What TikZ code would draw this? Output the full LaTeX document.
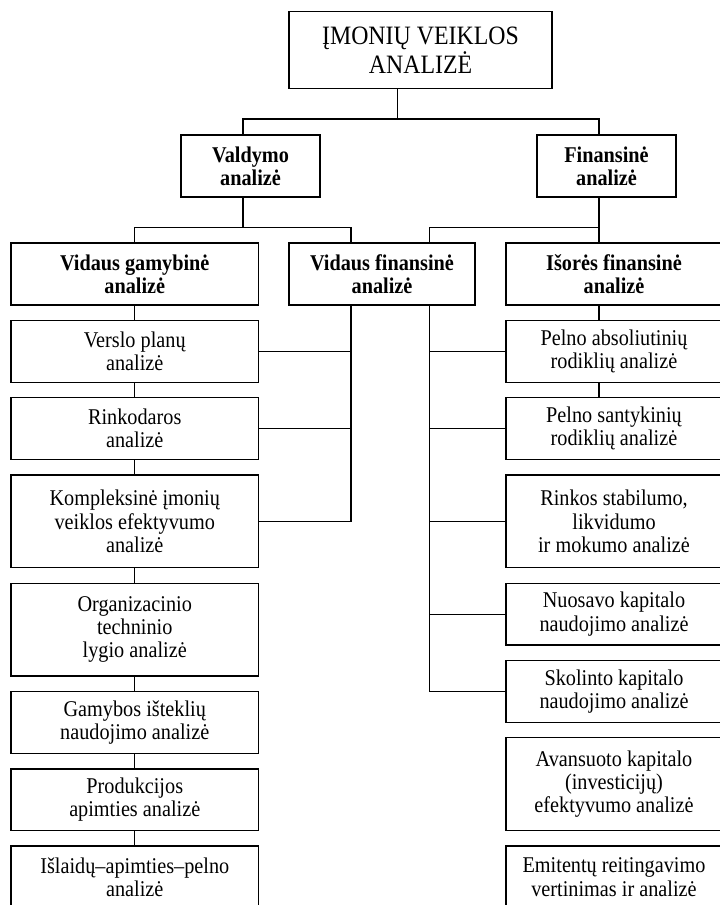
\documentclass[tikz,border=0pt]{standalone}
\usepackage{fontspec}
\setmainfont{Liberation Serif}[FakeStretch=0.9]
\newcommand{\bodyfnt}{\fontsize{22.5}{23.3}\selectfont}
\newcommand{\topfnt}{\fontsize{26.5}{28.4}\selectfont}
\begin{document}
\lineskiplimit=-20pt
\begin{tikzpicture}[x=1pt,y=-1pt,
  box/.style={draw, line width=1.2pt, rectangle, inner sep=0pt, align=center,
    font=\bodyfnt},
  bbox/.style={box, font=\bodyfnt\bfseries},
  lcol/.style={box, minimum width=247.5pt},
  rcol/.style={box, minimum width=216pt},
  conn/.style={line width=1.2pt}]
\clip (0,0) rectangle (720,905);
\fill[white] (0,0) rectangle (720,905);

% x positions of connector lines, bus levels
\coordinate (xT) at (397.6,0);
\coordinate (xV) at (243,0);
\coordinate (xF) at (599,0);
\coordinate (xL) at (351,0);
\coordinate (xR) at (429.3,0);
\coordinate (bus1) at (0,119);
\coordinate (bus2) at (0,227.7);

% level 1
\node[box, minimum width=263pt, minimum height=77pt, font=\topfnt] (top) at (420.5,50.2) {ĮMONIŲ VEIKLOS\\ANALIZĖ};

% level 2
\node[bbox, minimum width=139pt, minimum height=62pt] (valdymo) at (250.5,166) {Valdymo\\analizė};
\node[bbox, minimum width=139pt, minimum height=62pt] (finans) at (606.5,166) {Finansinė\\analizė};

% level 3
\node[bbox, minimum width=247.5pt, minimum height=62pt] (vgam) at (134.75,274) {Vidaus gamybinė\\analizė};
\node[bbox, minimum width=186pt, minimum height=62pt] (vfin) at (382,274) {Vidaus finansinė\\analizė};
\node[bbox, minimum width=216pt, minimum height=62pt] (isor) at (614,274) {Išorės finansinė\\analizė};

% left column
\node[lcol, minimum height=61.6pt] (verslo) at (134.75,351.5) {Verslo planų\\analizė};
\node[lcol, minimum height=61.6pt] (rinko) at (134.75,428.5) {Rinkodaros\\analizė};
\node[lcol, minimum height=92.7pt] (kompl) at (134.75,521.35) {Kompleksinė įmonių\\veiklos efektyvumo\\analizė};
\node[lcol, minimum height=92.7pt] (organ) at (134.75,629.65) {Organizacinio\\techninio\\lygio analizė};
\node[lcol, minimum height=61.6pt] (gamyb) at (134.75,722.5) {Gamybos išteklių\\naudojimo analizė};
\node[lcol, minimum height=61.7pt] (produk) at (134.75,799.85) {Produkcijos\\apimties analizė};
\node[lcol, minimum height=62pt] (islaid) at (134.75,877) {Išlaidų–apimties–pelno\\analizė};

% right column
\node[rcol, minimum height=61.6pt] (pabs) at (614,351.5) {Pelno absoliutinių\\rodiklių analizė};
\node[rcol, minimum height=61.6pt] (psant) at (614,428.5) {Pelno santykinių\\rodiklių analizė};
\node[rcol, minimum height=92.7pt] (rinkos) at (614,521.35) {Rinkos stabilumo,\\likvidumo\\ir mokumo analizė};
\node[rcol, minimum height=61.7pt] (nuosav) at (614,614.15) {Nuosavo kapitalo\\naudojimo analizė};
\node[rcol, minimum height=62pt] (skol) at (614,691.7) {Skolinto kapitalo\\naudojimo analizė};
\node[rcol, minimum height=93pt] (avans) at (614,784.2) {Avansuoto kapitalo\\(investicijų)\\efektyvumo analizė};
\node[rcol, minimum height=62pt] (emit) at (614,877) {Emitentų reitingavimo\\vertinimas ir analizė};

% connectors level 1 -> 2
\draw[conn] (top.south -| xT) -- (xT |- bus1);
\draw[conn] (valdymo.north -| xV) -- (xV |- bus1) -- (xF |- bus1) -- (finans.north -| xF);

% level 2 -> 3
\draw[conn] (valdymo.south -| xV) -- (xV |- bus2);
\draw[conn] (vgam.north) -- (vgam.north |- bus2) -- (xL |- bus2) -- (vfin.north -| xL);
\draw[conn] (finans.south -| xF) -- (isor.north -| xF);
\draw[conn] (vfin.north -| xR) -- (xR |- bus2) -- (xF |- bus2);

% left chain
\draw[conn] (vgam.south) -- (verslo.north);
\draw[conn] (verslo.south) -- (rinko.north);
\draw[conn] (rinko.south) -- (kompl.north);
\draw[conn] (kompl.south) -- (organ.north);
\draw[conn] (organ.south) -- (gamyb.north);
\draw[conn] (gamyb.south) -- (produk.north);
\draw[conn] (produk.south) -- (islaid.north);

% internal financial -> left column
\draw[conn] (vfin.south -| xL) -- (kompl.east -| xL) -- (kompl.east);
\draw[conn] (verslo.east) -- (verslo.east -| xL);
\draw[conn] (rinko.east) -- (rinko.east -| xL);

% internal financial -> right column
\draw[conn] (vfin.south -| xR) -- (skol.west -| xR) -- (skol.west);
\draw[conn] (pabs.west) -- (pabs.west -| xR);
\draw[conn] (psant.west) -- (psant.west -| xR);
\draw[conn] (rinkos.west) -- (rinkos.west -| xR);
\draw[conn] (nuosav.west) -- (nuosav.west -| xR);

% external chain
\draw[conn] (isor.south -| xF) -- (pabs.north -| xF);
\draw[conn] (pabs.south -| xF) -- (psant.north -| xF);
\end{tikzpicture}
\end{document}
